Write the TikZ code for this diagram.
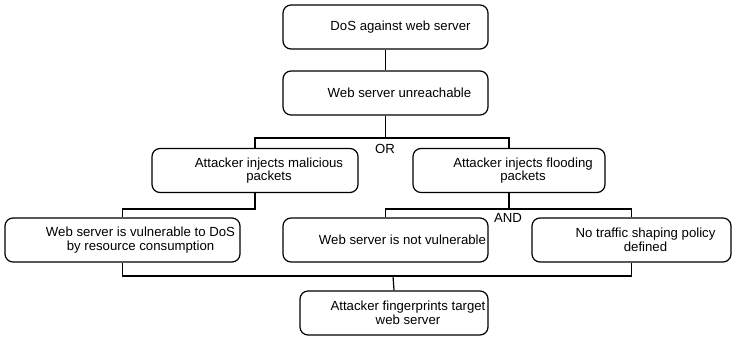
\documentclass[tikz,border=0pt]{standalone}
\usepackage{fontspec}
\setmainfont{Liberation Sans}
\begin{document}
\begin{tikzpicture}[x=1pt,y=-1pt,
  box/.style={draw, line width=1.2pt, rounded corners=8pt, minimum height=44pt, inner sep=0pt},
  lbl/.style={font=\fontsize{13.2}{13.6}\selectfont, align=center, inner sep=0pt},
  wire/.style={line width=1.2pt}]
\useasboundingbox (0,0) rectangle (733,337);

% goal and sub-goals
\node[box, minimum width=205pt] (b1) at (385.5,27) {};
\node[box, minimum width=205pt] (b2) at (385.5,93) {};
\node[box, minimum width=206pt] (b3) at (255,170.5) {};
\node[box, minimum width=192pt] (b4) at (509,170.5) {};
\node[box, minimum width=235pt] (b5) at (122.5,240) {};
\node[box, minimum width=205pt] (b6) at (385.5,240) {};
\node[box, minimum width=199pt] (b7) at (631.5,240) {};
\node[box, minimum width=188pt] (b8) at (394,313) {};

% labels
\node[lbl] (t1) at ([xshift=15pt]b1.center) {DoS against web server};
\node[lbl] (t2) at ([xshift=14pt]b2.center) {Web server unreachable};
\node[lbl] (t3) at ([xshift=14pt]b3.center) {Attacker injects malicious\\packets};
\node[lbl] (t4) at ([xshift=14pt]b4.center) {Attacker injects flooding\\packets};
\node[lbl] (t5) at ([xshift=18pt]b5.center) {Web server is vulnerable to DoS\\by resource consumption};
\node[lbl] (t6) at ([xshift=17pt]b6.center) {Web server is not vulnerable};
\node[lbl] (t7) at ([xshift=14pt]b7.center) {No traffic shaping policy\\defined};
\node[lbl] (t8) at ([xshift=14pt]b8.center) {Attacker fingerprints target\\web server};

% gate labels
\node[lbl] (or) at (385,148.5) {OR};
\node[lbl] (and) at (508,218) {AND};

% junction points
\coordinate (j1) at (385.5,138);
\coordinate (j2) at (255,209);
\coordinate (j3) at (509,209);
\coordinate (j4) at (393,276);

% connectors
\draw[wire] (b1.south) -- (b2.north);
\draw[wire] (b2.south) -- (j1);
\draw[wire] (b3.north) |- (j1) -| (b4.north);
\draw[wire] (b3.south) -- (j2) -| (b5.north);
\draw[wire] (b4.south) -- (j3);
\draw[wire] (b6.north) |- (j3) -| (b7.north);
\draw[wire] (b5.south) |- (j4) -| (b7.south);
\draw[wire] (j4) -- (b8.north);
\end{tikzpicture}
\end{document}
